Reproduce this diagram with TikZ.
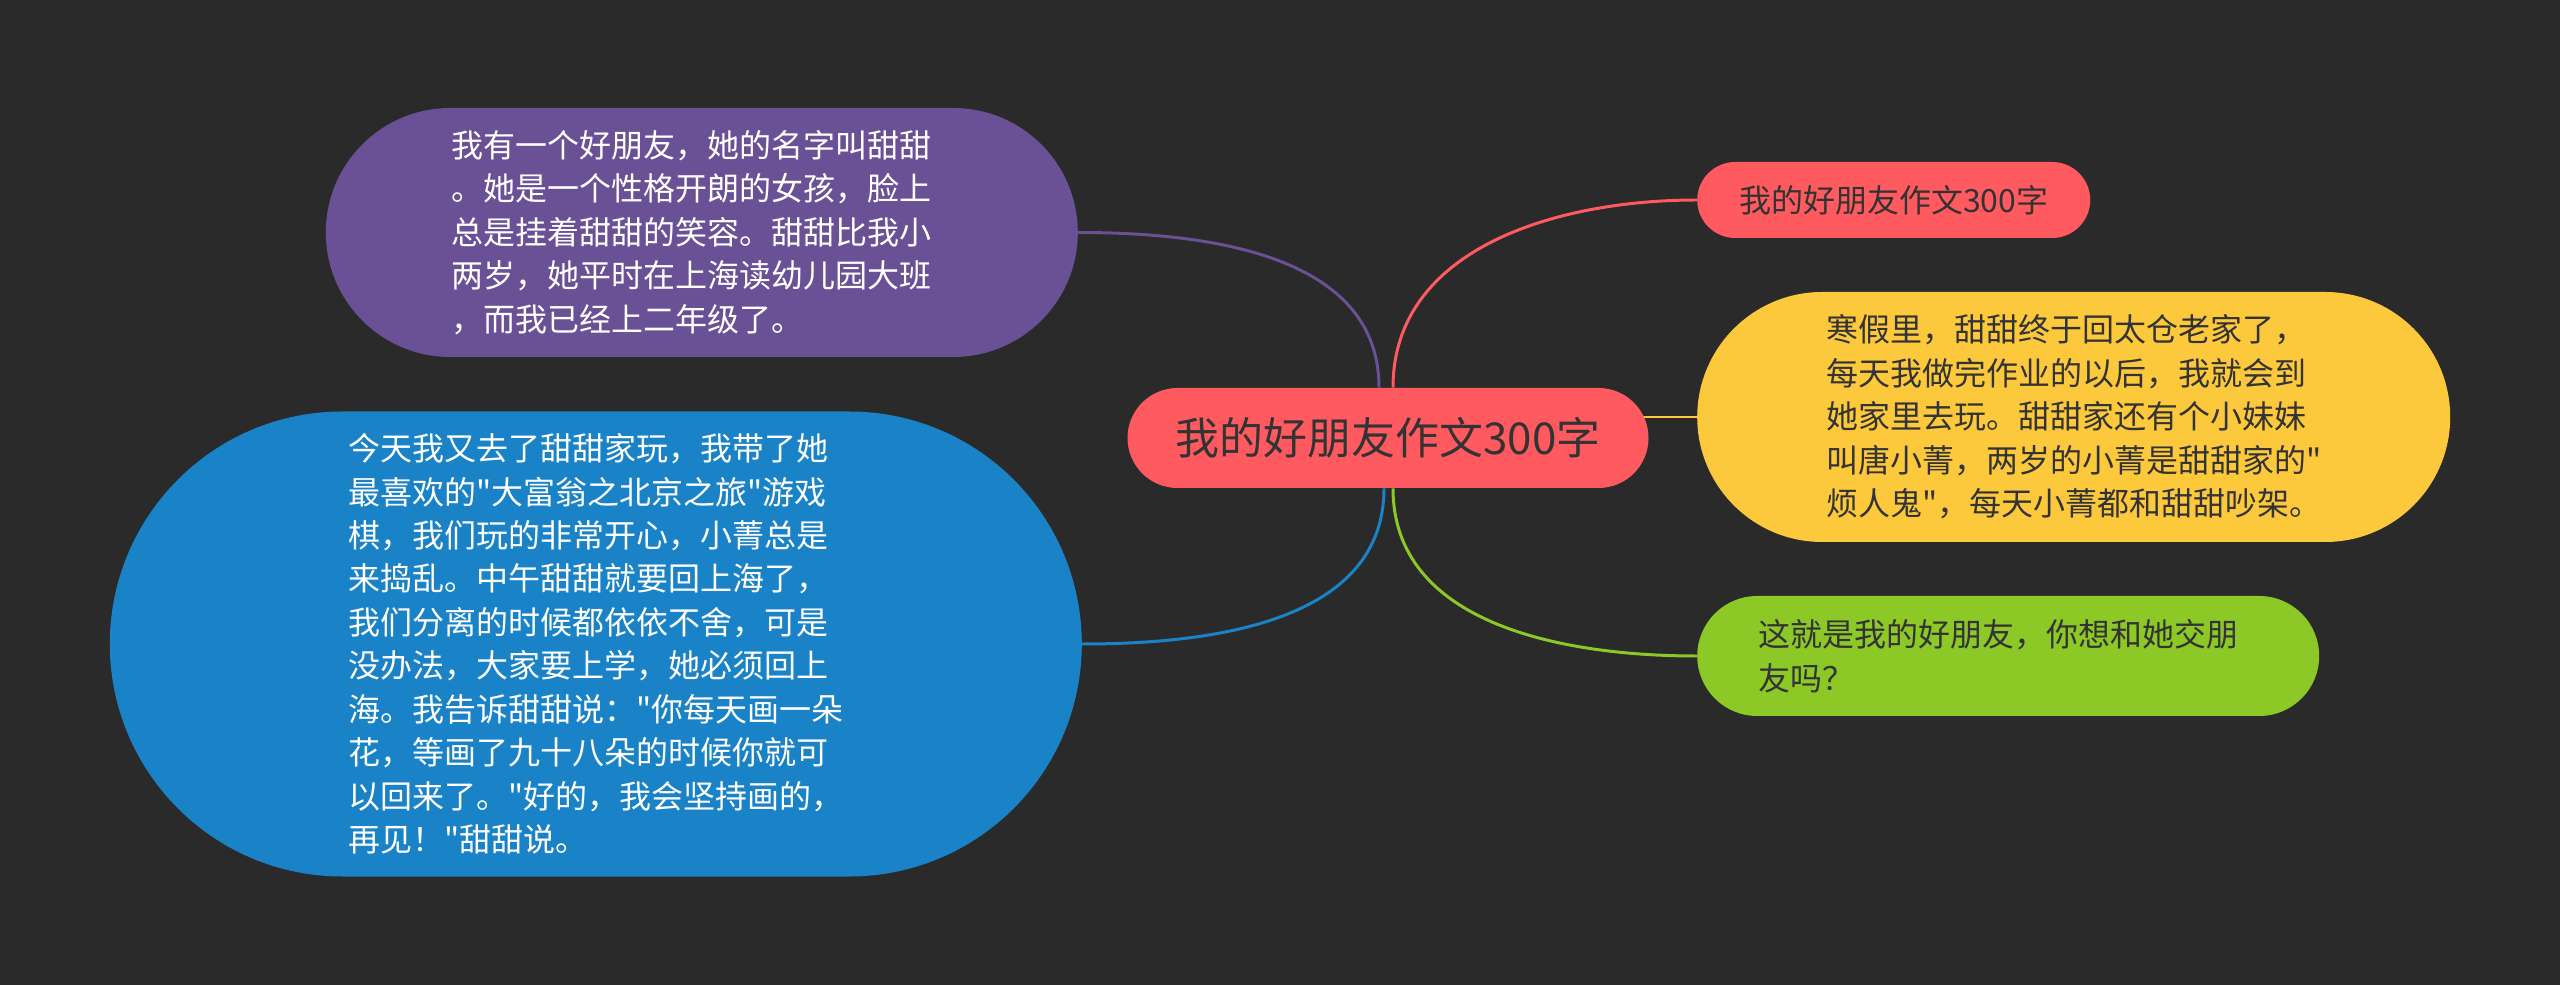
\documentclass[tikz,border=0pt]{standalone}
\usepackage{fontspec}
\setmainfont{Noto Sans CJK SC}[Ligatures=TeXOff]
\usepackage{tikz}
\usetikzlibrary{positioning,shapes.misc,backgrounds}
\definecolor{mybg}{RGB}{42,42,42}
\definecolor{mypurple}{RGB}{106,80,149}
\definecolor{myblue}{RGB}{26,130,198}
\definecolor{myred}{RGB}{255,90,95}
\definecolor{myyellow}{RGB}{253,201,60}
\definecolor{mygreen}{RGB}{140,200,38}
\definecolor{mytext}{RGB}{51,51,51}

\begin{document}
\begin{tikzpicture}
    \tikzstyle{topic}=[rounded rectangle, inner sep=0pt, align=left, text=mytext, font=\fontsize{18.2}{24.75}\selectfont]
    \tikzstyle{link}=[line width=1.7pt]
    \node[topic, fill=myred, minimum width=10.42cm, minimum height=2cm, font=\fontsize{25}{30}\selectfont] (root) at (27.76,-8.76) {我的好朋友作文300字};
    \node[topic, right=0.96cm of root, yshift=4.76cm, fill=myred, minimum width=7.86cm, minimum height=1.52cm] (title) {我的好朋友作文300字};
    \node[topic, right=0.96cm of root, yshift=0.42cm, fill=myyellow, minimum width=15.06cm, minimum height=5cm] (winter) {寒假里，甜甜终于回太仓老家了，\\每天我做完作业的以后，我就会到\\她家里去玩。甜甜家还有个小妹妹\\叫唐小菁，两岁的小菁是甜甜家的"\\烦人鬼"，每天小菁都和甜甜吵架。};
    \node[topic, right=0.96cm of root, yshift=-4.36cm, fill=mygreen, minimum width=12.44cm, minimum height=2.4cm] (ask) {这就是我的好朋友，你想和她交朋\hspace*{0.4cm}\\友吗？};
    \node[topic, left=0.98cm of root, yshift=4.11cm, fill=mypurple, text=white, minimum width=15.04cm, minimum height=4.98cm] (friend) {我有一个好朋友，她的名字叫甜甜\hspace*{0.4cm}\\。她是一个性格开朗的女孩，脸上\\总是挂着甜甜的笑容。甜甜比我小\\两岁，她平时在上海读幼儿园大班\\，而我已经上二年级了。};
    \node[topic, left=0.9cm of root, yshift=-4.12cm, fill=myblue, text=white, minimum width=19.44cm, minimum height=9.3cm] (visit) {今天我又去了甜甜家玩，我带了她\\最喜欢的"大富翁之北京之旅"游戏\\棋，我们玩的非常开心，小菁总是\\来捣乱。中午甜甜就要回上海了，\\我们分离的时候都依依不舍，可是\\没办法，大家要上学，她必须回上\\海。我告诉甜甜说："你每天画一朵\\花，等画了九十八朵的时候你就可\\以回来了。"好的，我会坚持画的，\\再见！"甜甜说。};
    \begin{scope}[on background layer]
    \fill[mybg] (0,0) rectangle (51.2,-19.7);
    \draw[link, mypurple] ([xshift=-0.18cm]root.north) to[out=90, in=0] (friend.east);
    \draw[link, myred] ([xshift=0.1cm]root.north) to[out=90, in=180] (title.west);
    \draw[link, myyellow] (root.center |- winter.west) -- (winter.west);
    \draw[link, myblue] ([xshift=-0.08cm]root.south) to[out=-90, in=0] (visit.east);
    \draw[link, mygreen] ([xshift=0.1cm]root.south) to[out=-90, in=180] (ask.west);
    \end{scope}
  \end{tikzpicture}
\end{document}
